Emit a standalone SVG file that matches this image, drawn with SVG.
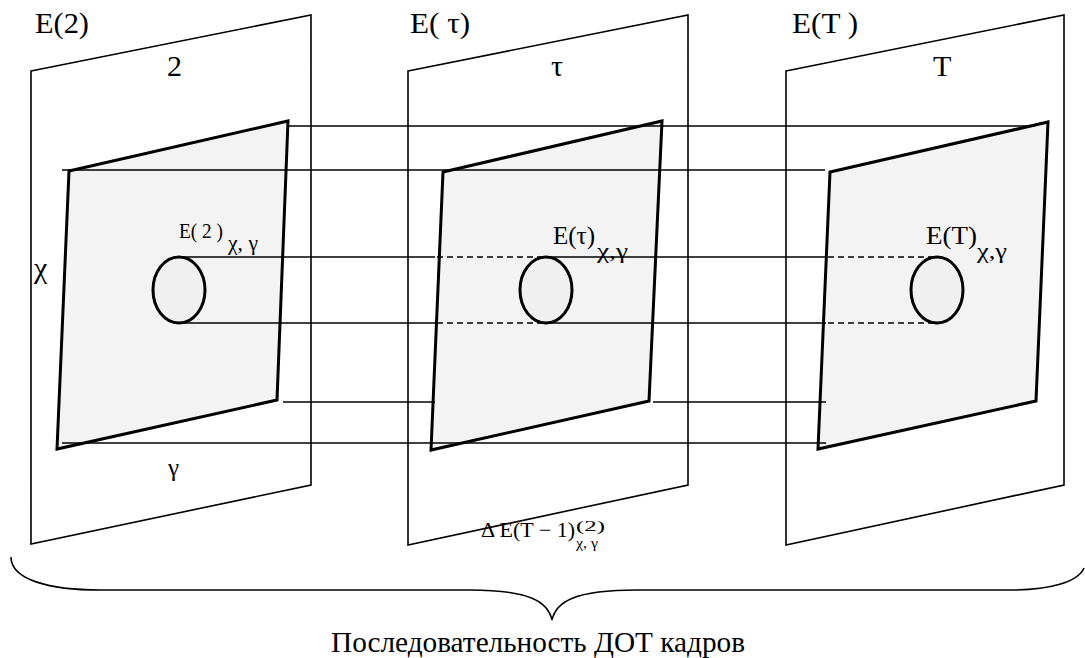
<svg xmlns="http://www.w3.org/2000/svg" width="1085" height="658" viewBox="0 0 1085 658" font-family="'Liberation Serif', 'Times New Roman', serif">
<style>
.frame{fill:none;stroke:#000;stroke-width:1.6}
.plane{fill:#f3f3f3;stroke:#000;stroke-width:3;stroke-linejoin:miter}
.ell{fill:#f0f0f0;stroke:#000;stroke-width:3}
.ln{stroke:#000;stroke-width:1.6;fill:none}
.dash{stroke:#000;stroke-width:1.6;stroke-dasharray:6 4;fill:none}
.big{font-size:30px}
.mid{font-size:25px}
.sm{font-size:21px}
.sub{font-size:21px}
.xs{font-size:15px}
</style>
<rect width="1085" height="658" fill="#fff"/>
<g id="frame1">
<polygon class="frame" points="31,71 311,15 311,485 31,544"/>
<polygon class="plane" points="69,171 288,121 277,400 57,449"/>
<ellipse class="ell" cx="179" cy="290" rx="26" ry="33"/>
<text class="big" x="35" y="33" textLength="54" lengthAdjust="spacingAndGlyphs">E(2)</text>
<text class="big" x="167" y="76">2</text>
<text class="big" x="34" y="278">χ</text>
<text class="mid" x="168" y="476">γ</text>
<text class="sm" x="179" y="238" textLength="44" lengthAdjust="spacingAndGlyphs">E( 2 )</text>
<text class="sub" x="228" y="250" textLength="30" lengthAdjust="spacingAndGlyphs">χ, γ</text>
</g>
<g id="frame2">
<polygon class="frame" points="408,71 688,15 688,485 408,545"/>
<polygon class="plane" points="443,172 662,121 649,401 431,450"/>
<ellipse class="ell" cx="546" cy="290" rx="26" ry="33"/>
<text class="big" x="410" y="33" textLength="60" lengthAdjust="spacingAndGlyphs">E( τ)</text>
<text class="big" x="551" y="76">τ</text>
<text class="mid" x="553" y="244" textLength="42" lengthAdjust="spacingAndGlyphs">E(τ)</text>
<text class="sub" x="597" y="258" textLength="31" lengthAdjust="spacingAndGlyphs">χ,γ</text>
<text class="sm" x="481" y="537" textLength="94" lengthAdjust="spacingAndGlyphs">Δ E(T − 1)</text>
<text class="xs" x="576" y="531" textLength="29" lengthAdjust="spacingAndGlyphs">(2)</text>
<text class="xs" x="576" y="548" textLength="22" lengthAdjust="spacingAndGlyphs">χ, γ</text>
</g>
<g id="frame3">
<polygon class="frame" points="786,71 1064,15 1064,485 786,545"/>
<polygon class="plane" points="830,172 1048,122 1036,401 818,449"/>
<ellipse class="ell" cx="937" cy="290" rx="26" ry="33"/>
<text class="big" x="792" y="33" textLength="66" lengthAdjust="spacingAndGlyphs">E(T )</text>
<text class="big" x="933" y="76">T</text>
<text class="mid" x="926" y="244" textLength="51" lengthAdjust="spacingAndGlyphs">E(T)</text>
<text class="sub" x="977" y="258" textLength="30" lengthAdjust="spacingAndGlyphs">χ,γ</text>
</g>
<g id="connectors">
<line class="ln" x1="287" y1="126" x2="1035" y2="126"/>
<line class="ln" x1="62" y1="170" x2="825" y2="170"/>
<line class="ln" x1="179" y1="257" x2="435" y2="257"/>
<line class="dash" x1="437" y1="257" x2="546" y2="257"/>
<line class="ln" x1="546" y1="257" x2="826" y2="257"/>
<line class="dash" x1="828" y1="257" x2="937" y2="257"/>
<line class="ln" x1="179" y1="323" x2="435" y2="323"/>
<line class="dash" x1="437" y1="323" x2="546" y2="323"/>
<line class="ln" x1="546" y1="323" x2="826" y2="323"/>
<line class="dash" x1="828" y1="323" x2="937" y2="323"/>
<line class="ln" x1="283" y1="402" x2="435" y2="402"/>
<line class="ln" x1="653" y1="402" x2="826" y2="402"/>
<line class="ln" x1="62" y1="443" x2="826" y2="443"/>
</g>
<g id="brace">
<path class="ln" d="M11 557 C11 580 50 590 100 590 L470 590 C530 590 548 602 552 620 C556 602 574 590 637 590 L1010 590 C1050 590 1078 582 1084 568"/>
<text class="big" x="538" y="652" text-anchor="middle" textLength="414" lengthAdjust="spacingAndGlyphs">Последовательность ДОТ кадров</text>
</g>
</svg>
